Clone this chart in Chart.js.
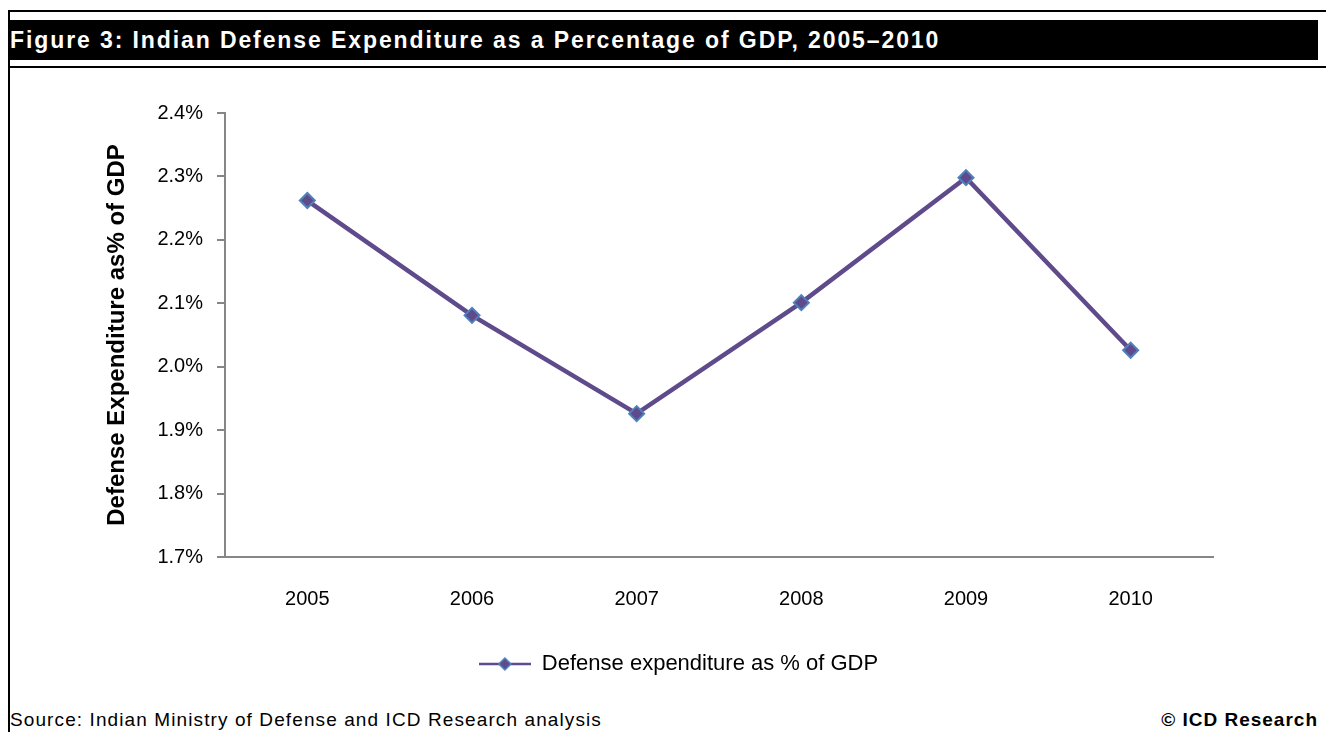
<!DOCTYPE html>
<html lang="en">
<head>
<meta charset="UTF-8">
<title>Indian Defense Expenditure as a Percentage of GDP</title>
<script src="https://cdn.jsdelivr.net/npm/chart.js"></script>
<style>
    body { margin: 0; width: 1326px; height: 732px; background: #fff; font-family: Arial, "Liberation Sans", sans-serif; position: relative; overflow: hidden; }
    .rule { position: absolute; left: 8px; right: 0; height: 2px; background: #000; }
    .left-border { position: absolute; left: 8px; top: 10px; width: 2px; bottom: 0; background: #000; }
    .title-bar { position: absolute; left: 8px; top: 20px; width: 1310px; height: 40px; background: #000; color: #fff; font-weight: bold; font-size: 23px; letter-spacing: 1.9px; line-height: 41px; padding-left: 2px; box-sizing: border-box; white-space: nowrap; }
    .chart-box { position: absolute; left: 10px; top: 70px; width: 1310px; height: 620px; }
    .source { position: absolute; left: 10px; top: 709px; font-size: 19px; letter-spacing: 1.1px; white-space: nowrap; }
    .copy { position: absolute; right: 8px; top: 709px; font-size: 19px; letter-spacing: 1px; font-weight: bold; }
</style>
</head>
<body>
<div class="rule" style="top:10px"></div>
<div class="title-bar">Figure 3: Indian Defense Expenditure as a Percentage of GDP, 2005–2010</div>
<div class="rule" style="top:66px"></div>
<div class="left-border"></div>
<div class="chart-box"><canvas id="chart"></canvas></div>
<div class="source">Source: Indian Ministry of Defense and ICD Research analysis</div>
<div class="copy">© ICD Research</div>
<script>
// data
const years = ["2005", "2006", "2007", "2008", "2009", "2010"];
const defensePct = [2.262, 2.081, 1.926, 2.101, 2.298, 2.026];
const yTicks = [1.7, 1.8, 1.9, 2.0, 2.1, 2.2, 2.3, 2.4];

const axisGray = '#868686';
const lineColor = '#5F4B8B';
const markerEdge = '#4F81BD';

// legend key: short line with a diamond in the middle
function legendKey() {
    const c = document.createElement('canvas');
    c.width = 52; c.height = 16;
    const g = c.getContext('2d');
    g.strokeStyle = lineColor;
    g.lineWidth = 2.5;
    g.beginPath(); g.moveTo(0, 8); g.lineTo(52, 8); g.stroke();
    g.beginPath();
    g.moveTo(26, 2); g.lineTo(32, 8); g.lineTo(26, 14); g.lineTo(20, 8); g.closePath();
    g.fillStyle = lineColor; g.fill();
    g.strokeStyle = markerEdge; g.lineWidth = 1.5; g.stroke();
    return c;
}
const keyImg = legendKey();

// the original legend sits a bit right of the plot centre
const nudgeLegend = {
    id: 'nudgeLegend',
    afterLayout(chart) {
        chart.legend.left += 22;
        chart.legend.right += 22;
    }
};

new Chart(document.getElementById('chart'), {
    type: 'line',
    data: {
        labels: years,
        datasets: [{
            label: 'Defense expenditure as % of GDP',
            data: defensePct,
            borderColor: lineColor,
            borderWidth: 4.5,
            pointStyle: 'rectRot',
            pointRadius: 7.5,
            pointBackgroundColor: lineColor,
            pointBorderColor: markerEdge,
            pointBorderWidth: 2,
            tension: 0
        }]
    },
    options: {
        responsive: true,
        maintainAspectRatio: false,
        animation: false,
        layout: { padding: { left: 90, top: 43, right: 107, bottom: 5 } },
        plugins: {
            legend: {
                position: 'bottom',
                labels: {
                    usePointStyle: true,
                    pointStyleWidth: 52,
                    color: '#000',
                    font: { family: 'Arial', size: 22 },
                    padding: 10,
                    generateLabels: chart => chart.data.datasets.map((ds, i) => ({
                        text: ds.label,
                        pointStyle: keyImg,
                        fillStyle: lineColor,
                        strokeStyle: lineColor,
                        lineWidth: 0,
                        hidden: false,
                        datasetIndex: i,
                        fontColor: '#000'
                    }))
                }
            },
            tooltip: { enabled: false }
        },
        scales: {
            x: {
                offset: true,
                grid: { drawOnChartArea: false, drawTicks: false },
                border: { color: axisGray, width: 2 },
                ticks: { color: '#000', font: { family: 'Arial', size: 20 }, padding: 30 },
                afterFit: s => { s.height = 86; }
            },
            y: {
                min: 1.7,
                max: 2.4,
                afterBuildTicks: s => { s.ticks = yTicks.map(v => ({ value: v })); },
                grid: { drawOnChartArea: false, drawTicks: true, tickLength: 8, color: axisGray, lineWidth: 2 },
                border: { color: axisGray, width: 2 },
                ticks: {
                    color: '#000',
                    font: { family: 'Arial', size: 20 },
                    padding: 14,
                    callback: v => v.toFixed(1) + '%'
                },
                title: {
                    display: true,
                    text: 'Defense Expenditure as% of GDP',
                    color: '#000',
                    font: { family: 'Arial', size: 24, weight: 'bold' },
                    padding: { top: 3, bottom: 0 }
                },
                afterFit: s => { s.width = 125; }
            }
        }
    },
    plugins: [nudgeLegend]
});
</script>
</body>
</html>
